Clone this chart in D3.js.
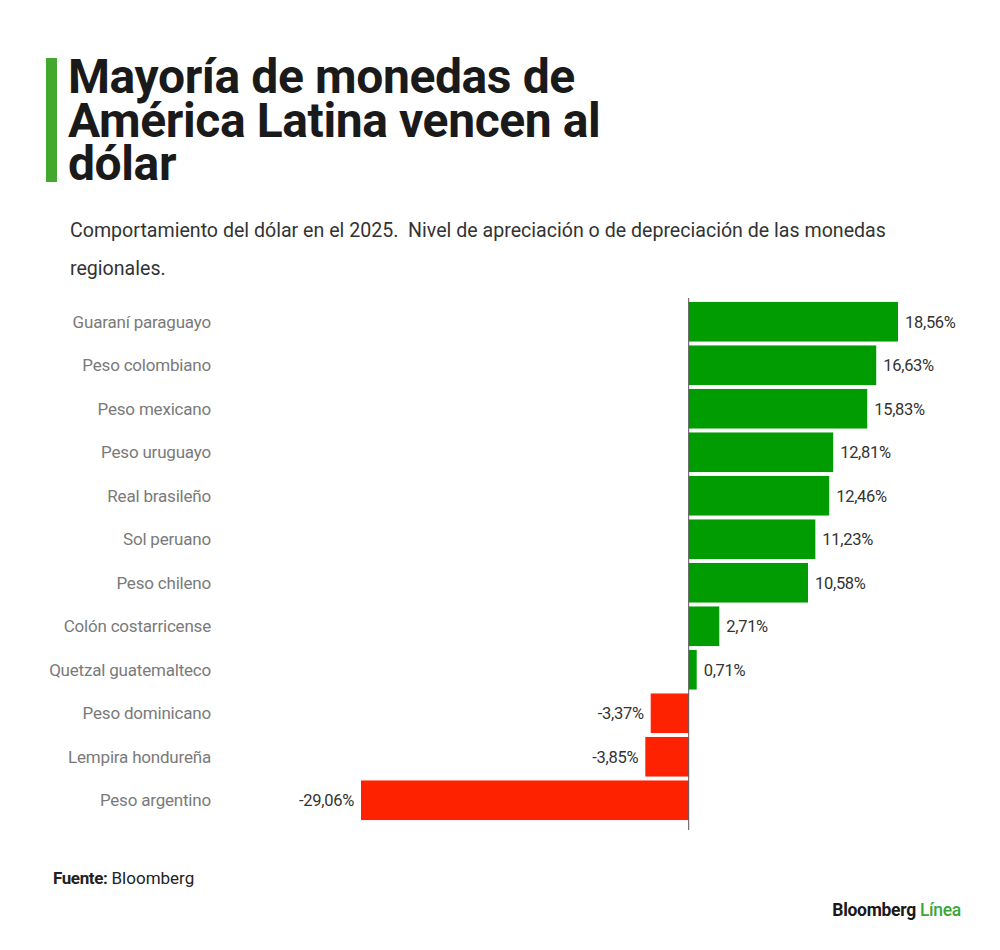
<!DOCTYPE html>
<html>
<head>
<meta charset="utf-8">
<script src="https://cdn.jsdelivr.net/npm/d3@7"></script>
<style>
  body { margin: 0; background: #ffffff; }
  svg text { font-family: Roboto, "Liberation Sans", sans-serif; }
</style>
</head>
<body>
<svg></svg>
<script>
// Data
const currencies = ["Guaraní paraguayo", "Peso colombiano", "Peso mexicano", "Peso uruguayo",
  "Real brasileño", "Sol peruano", "Peso chileno", "Colón costarricense",
  "Quetzal guatemalteco", "Peso dominicano", "Lempira hondureña", "Peso argentino"];
const changes = [18.56, 16.63, 15.83, 12.81, 12.46, 11.23, 10.58, 2.71, 0.71, -3.37, -3.85, -29.06];
const titleLines = ["Mayoría de monedas de", "América Latina vencen al", "dólar"];
const subtitleLines = ["Comportamiento del dólar en el 2025.  Nivel de apreciación o de depreciación de las monedas", "regionales."];

const width = 1000, height = 950;
const data = currencies.map((c, i) => ({ name: c, value: changes[i] }));

const svg = d3.select("svg")
    .attr("width", width)
    .attr("height", height)
    .style("background-color", "#ffffff");

// Title block with green accent bar
svg.append("rect")
    .attr("x", 46).attr("y", 58)
    .attr("width", 11).attr("height", 124)
    .attr("fill", "#43a82e");

// Title as one text element with a tspan per line (tight leading)
svg.append("text")
    .attr("x", 68)
    .attr("y", 93)
    .style("font-size", "48px")
    .style("font-weight", "700")
    .style("letter-spacing", "-0.4px")
    .style("fill", "#1a1a1a")
    .selectAll("tspan")
    .data(titleLines)
    .join("tspan")
    .attr("x", 68)
    .attr("y", (d, i) => 93 + i * 43.5)
    .text(d => d);

svg.append("g").selectAll("text")
    .data(subtitleLines)
    .join("text")
    .attr("x", 70)
    .attr("y", (d, i) => 237 + i * 38)
    .attr("xml:space", "preserve")
    .style("white-space", "pre")
    .style("font-size", "19.6px")
    .style("fill", "#333")
    .text(d => d);

// Scales
const x = d3.scaleLinear()
    .domain([d3.min(changes), d3.max(changes)])
    .range([361, 898]);

const y = d3.scaleBand()
    .domain(currencies)
    .range([300, 822])
    .paddingInner(0.09)
    .paddingOuter(0.045);

const chart = svg.append("g");

// Bars
chart.selectAll(".bar")
    .data(data)
    .join("rect")
    .attr("class", "bar")
    .attr("x", d => x(Math.min(0, d.value)))
    .attr("y", d => y(d.name))
    .attr("width", d => Math.abs(x(d.value) - x(0)))
    .attr("height", y.bandwidth())
    .attr("fill", d => d.value >= 0 ? "#019c01" : "#ff2200");

// Zero line
chart.append("line")
    .attr("x1", x(0)).attr("x2", x(0))
    .attr("y1", 298).attr("y2", 830)
    .attr("stroke", "#555")
    .attr("stroke-width", 1);

// Category labels
chart.selectAll(".cat")
    .data(data)
    .join("text")
    .attr("class", "cat")
    .attr("x", 211)
    .attr("y", d => y(d.name) + y.bandwidth() / 2)
    .attr("dy", "0.35em")
    .attr("text-anchor", "end")
    .style("font-size", "17px")
    .style("letter-spacing", "-0.2px")
    .style("fill", "#7a7a7a")
    .text(d => d.name);

// Value labels
const fmt = v => v.toFixed(2).replace(".", ",") + "%";
chart.selectAll(".val")
    .data(data)
    .join("text")
    .attr("class", "val")
    .attr("x", d => d.value >= 0 ? x(d.value) + 7 : x(d.value) - 7)
    .attr("y", d => y(d.name) + y.bandwidth() / 2)
    .attr("dy", "0.35em")
    .attr("text-anchor", d => d.value >= 0 ? "start" : "end")
    .style("font-size", "16.5px")
    .style("letter-spacing", "-0.3px")
    .style("fill", "#333")
    .text(d => fmt(d.value));

// Source
const src = svg.append("text")
    .attr("x", 53).attr("y", 884)
    .style("font-size", "17px")
    .style("fill", "#222");
src.append("tspan").style("font-weight", "700").style("letter-spacing", "-0.4px").text("Fuente:");
src.append("tspan").text(" Bloomberg");

// Logo
const logo = svg.append("text")
    .attr("x", 961).attr("y", 916)
    .attr("text-anchor", "end")
    .style("font-size", "17.5px")
    .style("font-weight", "700")
    .style("letter-spacing", "-0.3px")
    .style("fill", "#1a1a1a");
logo.append("tspan").text("Bloomberg ");
logo.append("tspan").style("fill", "#3aa635").style("font-weight", "500").text("Línea");
</script>
</body>
</html>
